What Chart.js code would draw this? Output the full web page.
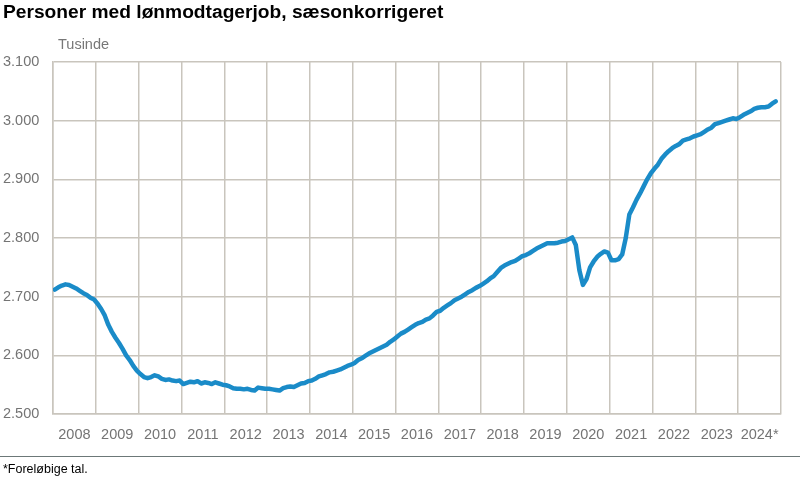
<!DOCTYPE html>
<html lang="da">
<head>
<meta charset="utf-8">
<script src="https://cdn.jsdelivr.net/npm/chart.js@4.4.1/dist/chart.umd.min.js"></script>
<style>
  html, body { margin: 0; padding: 0; background: #fff; }
  body { width: 800px; height: 480px; position: relative; overflow: hidden; font-family: "Liberation Sans", Arial, sans-serif; }
  #wrap { position: absolute; left: 0; top: 0; width: 800px; height: 480px; }
  .title { position: absolute; left: 3px; top: 1px; font-size: 19.2px; font-weight: bold; color: #000; white-space: nowrap; }
  .unit { position: absolute; left: 58px; top: 36px; font-size: 14.5px; color: #777; }
  .rule { position: absolute; left: 0; top: 456px; width: 800px; height: 0; border-top: 1.5px solid #6c7878; }
  .note { position: absolute; left: 3px; top: 462px; font-size: 12.5px; color: #000; }
</style>
</head>
<body>
<div id="wrap"><canvas id="c" width="800" height="480"></canvas></div>
<div class="title">Personer med lønmodtagerjob, sæsonkorrigeret</div>
<div class="unit">Tusinde</div>
<div class="rule"></div>
<div class="note">*Foreløbige tal.</div>
<script>
// Year categories (x-axis labels)
const yearLabels = ["2008","2009","2010","2011","2012","2013","2014","2015","2016","2017","2018","2019","2020","2021","2022","2023","2024*"];
// Y-axis ticks (thousands)
const yTickValues = [2500, 2600, 2700, 2800, 2900, 3000, 3100];
// Monthly values, seasonally adjusted, thousands (Jan 2008 onward)
const v2008 = [2712,2716,2719,2721,2720,2717,2714,2710,2706,2703,2698,2695];
const v2009 = [2688,2679,2668,2652,2640,2630,2621,2611,2600,2592,2582,2574];
const v2010 = [2568,2563,2561,2563,2566,2564,2560,2558,2559,2557,2556,2557];
const v2011 = [2551,2553,2555,2554,2556,2552,2554,2553,2551,2554,2552,2550];
const v2012 = [2549,2547,2544,2543,2543,2542,2543,2541,2540,2545,2544,2543];
const v2013 = [2543,2542,2541,2540,2544,2546,2547,2546,2549,2552,2553,2556];
const v2014 = [2557,2560,2564,2566,2568,2571,2572,2574,2576,2579,2582,2584];
const v2015 = [2587,2592,2595,2599,2603,2606,2609,2612,2615,2618,2623,2627];
const v2016 = [2632,2637,2640,2644,2648,2652,2655,2657,2661,2663,2668,2674];
const v2017 = [2676,2681,2685,2689,2694,2697,2700,2704,2708,2711,2715,2718];
const v2018 = [2722,2726,2731,2735,2742,2749,2753,2756,2759,2761,2765,2769];
const v2019 = [2771,2774,2778,2782,2785,2788,2791,2791,2791,2792,2794,2795];
const v2020 = [2798,2801,2788,2745,2720,2730,2750,2760,2768,2773,2777,2775];
const v2021 = [2762,2762,2764,2772,2800,2840,2852,2865,2876,2888,2900,2910];
const v2022 = [2918,2925,2935,2942,2948,2953,2957,2960,2966,2968,2970,2973];
const v2023 = [2975,2977,2981,2985,2988,2994,2996,2998,3000,3002,3004,3003];
const v2024 = [3006,3010,3013,3016,3020,3022,3023,3023,3024,3029,3033];

const series = [].concat(v2008,v2009,v2010,v2011,v2012,v2013,v2014,v2015,v2016,v2017,v2018,v2019,v2020,v2021,v2022,v2023,v2024);
const points = series.map((v, i) => ({ x: i + 0.5, y: v }));
const nMonths = yearLabels.length * 12;

const gridColor = '#c9c5bd';
const tickColor = '#747474';
const fontFamily = '"Liberation Sans", Arial, sans-serif';

new Chart(document.getElementById('c'), {
  type: 'line',
  data: {
    datasets: [{
      data: points,
      borderColor: '#1a8bc8',
      borderWidth: 4.5,
      pointRadius: 0,
      tension: 0,
      borderJoinStyle: 'round',
      borderCapStyle: 'round',
      fill: false
    }]
  },
  options: {
    responsive: false,
    animation: false,
    devicePixelRatio: 1,
    layout: { padding: { left: 3, right: 19, top: 62, bottom: 26 } },
    plugins: { legend: { display: false }, tooltip: { enabled: false }, title: { display: false } },
    scales: {
      x: {
        type: 'linear',
        min: 0,
        max: nMonths,
        afterBuildTicks: (scale) => {
          const t = [];
          for (let v = 0; v <= nMonths; v += 6) t.push({ value: v });
          scale.ticks = t;
        },
        afterFit: (scale) => { scale.height = 40; },
        grid: {
          color: (ctx) => (ctx.tick && ctx.tick.value % 12 === 0) ? gridColor : 'rgba(0,0,0,0)',
          lineWidth: 1.5,
          drawTicks: false
        },
        border: { display: true, color: gridColor, width: 1.5 },
        ticks: {
          autoSkip: false,
          maxRotation: 0,
          padding: 12,
          color: tickColor,
          font: { family: fontFamily, size: 14.5 },
          callback: (v) => (v % 12 === 6) ? yearLabels[(v - 6) / 12] : ''
        }
      },
      y: {
        min: 2500,
        max: 3100,
        afterBuildTicks: (scale) => { scale.ticks = yTickValues.map(v => ({ value: v })); },
        afterFit: (scale) => { scale.width = 50; },
        grid: { color: gridColor, lineWidth: 1.5, drawTicks: false },
        border: { display: true, color: gridColor, width: 1.5 },
        ticks: {
          crossAlign: 'far',
          color: tickColor,
          font: { family: fontFamily, size: 14.5 },
          callback: (v) => v.toLocaleString('da-DK')
        }
      }
    }
  }
});
</script>
</body>
</html>
